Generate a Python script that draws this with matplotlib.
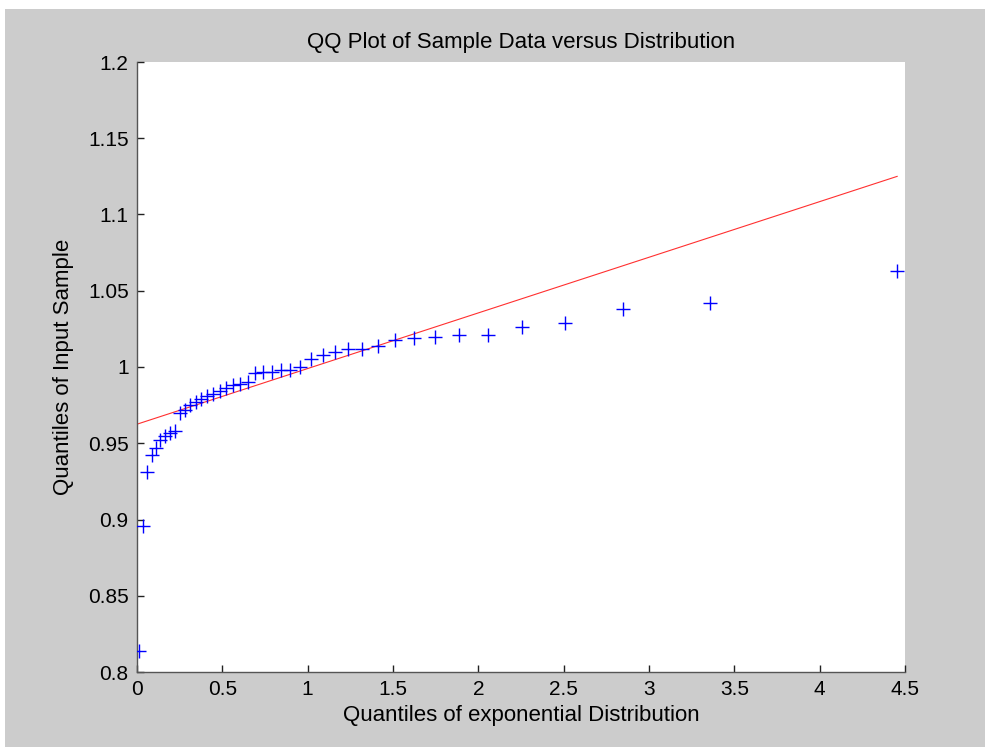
import matplotlib
matplotlib.use("Agg")
import matplotlib.pyplot as plt
from matplotlib.patches import Rectangle

# exponential quantiles (x) vs sorted sample (y)
x_quant = [0.012, 0.036, 0.060, 0.085, 0.110, 0.137, 0.164, 0.192, 0.220, 0.250,
           0.280, 0.311, 0.344, 0.377, 0.411, 0.447, 0.484, 0.523, 0.563, 0.604,
           0.648, 0.693, 0.741, 0.791, 0.843, 0.899, 0.958, 1.020, 1.087, 1.159,
           1.236, 1.319, 1.410, 1.510, 1.621, 1.746, 1.889, 2.057, 2.257, 2.508,
           2.845, 3.356, 4.454]
y_sample = [0.814, 0.896, 0.931, 0.942, 0.947, 0.952, 0.955, 0.957, 0.958, 0.970,
            0.972, 0.975, 0.977, 0.979, 0.981, 0.982, 0.984, 0.986, 0.988, 0.989,
            0.990, 0.996, 0.997, 0.997, 0.998, 0.998, 1.000, 1.005, 1.008, 1.010,
            1.012, 1.012, 1.014, 1.018, 1.019, 1.020, 1.021, 1.021, 1.026, 1.029,
            1.038, 1.042, 1.063]

# reference line end points
ref_x = [0.0, 4.454]
ref_y = [0.9625, 1.125]

x_ticks = [0, 0.5, 1, 1.5, 2, 2.5, 3, 3.5, 4, 4.5]
x_labels = ["0", "0.5", "1", "1.5", "2", "2.5", "3", "3.5", "4", "4.5"]
y_ticks = [0.8, 0.85, 0.9, 0.95, 1.0, 1.05, 1.1, 1.15, 1.2]
y_labels = ["0.8", "0.85", "0.9", "0.95", "1", "1.05", "1.1", "1.15", "1.2"]

plt.rcParams['font.family'] = ['Liberation Sans', 'DejaVu Sans']

fig = plt.figure(figsize=(9.85, 7.47), dpi=100, facecolor="white")
# grey figure area with thin white screenshot border on top/left
fig.patches.append(Rectangle((5 / 985, 0), 1, 1 - 9 / 747, transform=fig.transFigure,
                             facecolor="#cccccc", edgecolor="none", zorder=-1))

ax = fig.add_axes([137 / 985, 1 - 672 / 747, 768 / 985, 610 / 747])
ax.set_facecolor("white")

ax.plot(ref_x, ref_y, color="#ff3030", linewidth=0.8, zorder=2)
ax.plot(x_quant, y_sample, linestyle="none", marker="+", color="#0000ff",
        markersize=10, markeredgewidth=1.0, zorder=3)

ax.set_xlim(0, 4.5)
ax.set_ylim(0.8, 1.2)
ax.set_xticks(x_ticks)
ax.set_xticklabels(x_labels)
ax.set_yticks(y_ticks)
ax.set_yticklabels(y_labels)

ax.spines["top"].set_visible(False)
ax.spines["right"].set_visible(False)
for s in ("left", "bottom"):
    ax.spines[s].set_color("#555555")
    ax.spines[s].set_linewidth(1.0)
ax.tick_params(direction="in", length=5, width=1, color="#222222",
               labelsize=15, labelcolor="black", pad=6)

ax.set_title("QQ Plot of Sample Data versus Distribution", fontsize=16, pad=10)
ax.set_xlabel("Quantiles of exponential Distribution", fontsize=16, labelpad=4)
ax.set_ylabel("Quantiles of Input Sample", fontsize=16, labelpad=10)

fig.savefig("out.png", dpi=100, facecolor=fig.get_facecolor())
